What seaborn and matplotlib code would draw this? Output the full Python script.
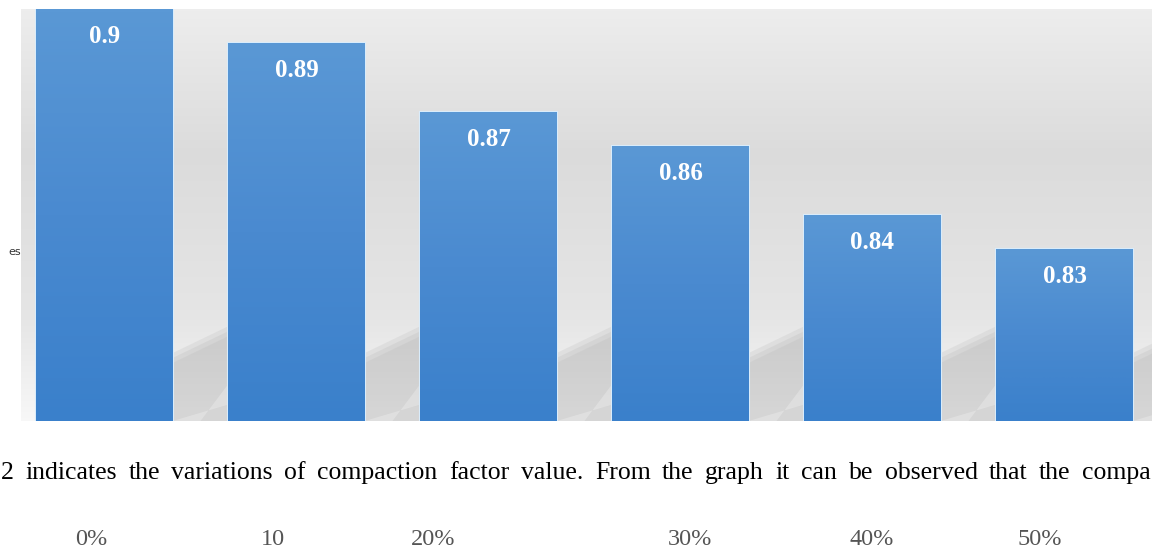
import numpy as np
import matplotlib
matplotlib.use('Agg')
import matplotlib.pyplot as plt
import matplotlib.transforms as mtransforms
from matplotlib.patches import Polygon
import seaborn as sns

# values
categories = ['0%', '10', '20%', '30%', '40%', '50%']
values = [0.90, 0.89, 0.87, 0.86, 0.84, 0.83]
value_labels = ['0.9', '0.89', '0.87', '0.86', '0.84', '0.83']
body_words = ['2', 'indicates', 'the', 'variations', 'of', 'compaction', 'factor', 'value.',
              'From', 'the', 'graph', 'it', 'can', 'be', 'observed', 'that', 'the', 'compa']

sns.set_style('white')
plt.rcParams['font.family'] = ['Liberation Serif', 'DejaVu Serif']

fig = plt.figure(figsize=(11.52, 5.49), dpi=100)
ax = fig.add_axes([21 / 1152, 128 / 549, 1131 / 1152, 412 / 549])
ax.set_facecolor('none')

# light grey backdrop, darker in the upper middle, whitish near the floor
rows = np.linspace(0, 1, 256)
shade = np.interp(rows, [0, 0.35, 0.75, 1.0], [0.93, 0.86, 0.90, 0.97])
bg = np.dstack([shade, shade, shade]).transpose(1, 0, 2)
ax.imshow(bg, extent=[0, 1, 0, 1], transform=ax.transAxes, aspect='auto',
          zorder=0, interpolation='bicubic')

sns.barplot(x=categories, y=values, width=0.71, color='#4a8bd0',
            edgecolor='#d9ecfb', linewidth=1.5, ax=ax, zorder=3)

ax.set_xlim(-0.435, 5.456)
ax.set_ylim(0.78, 0.9)

# soft shadows in the gaps between bars
blend = mtransforms.blended_transform_factory(ax.transData, ax.transAxes)
bars = list(ax.patches)
for i, b in enumerate(bars):
    x0 = b.get_x() + b.get_width()
    x1 = bars[i + 1].get_x() if i + 1 < len(bars) else x0 + 0.29
    for k, a in enumerate([0.12, 0.12, 0.1]):
        lift = 0.012 * k
        ax.add_patch(Polygon([(x0, 0.0), (x0, 0.165 - lift), (x1, 0.23 - lift), (x1, 0.0)],
                             closed=True, transform=blend, facecolor='#8f8f8f',
                             alpha=a, edgecolor='none', zorder=1))
    ax.add_patch(Polygon([(x0, 0.0), (x0 + (x1 - x0) * 0.5, 0.0), (x1, 0.09), (x1, 0.04)],
                         closed=True, transform=blend, facecolor='white',
                         alpha=0.25, edgecolor='none', zorder=1.5))

# vertical gradient inside every bar
grad = np.linspace(0, 1, 128).reshape(-1, 1)
cmap = matplotlib.colors.LinearSegmentedColormap.from_list(
    'barblue', ['#3a80cb', '#4a8ad0', '#5a98d5'])
for b in bars:
    im = ax.imshow(grad, extent=[b.get_x(), b.get_x() + b.get_width(), 0.78, b.get_height()],
                   origin='lower', aspect='auto', cmap=cmap, zorder=4,
                   interpolation='bicubic')
    im.set_clip_path(b)

for b, lab in zip(bars, value_labels):
    ax.annotate(lab, (b.get_x() + b.get_width() / 2, b.get_height()),
                xytext=(0, -27), textcoords='offset pixels', ha='center', va='center',
                color='white', fontsize=18, fontweight='bold', zorder=6)

ax.set_xticks([])
ax.set_yticks([])
ax.set_xlabel('')
ax.set_ylabel('')
for s in ax.spines.values():
    s.set_visible(False)

fig.text(8 / 1152, 1 - 252 / 549, 'es', fontsize=8, family='DejaVu Sans',
         color='#333333', va='center')

# justified line of body text: spread the words across the full width
fig.canvas.draw()
renderer = fig.canvas.get_renderer()
word_texts = [fig.text(0, 1 - 479 / 549, w, fontsize=18.5, color='black', va='baseline')
              for w in body_words]
widths = [t.get_window_extent(renderer).width for t in word_texts]
left_px, right_px = 1, 1151
gap = (right_px - left_px - sum(widths)) / (len(body_words) - 1)
xpos = left_px
for t, w in zip(word_texts, widths):
    t.set_x(xpos / 1152)
    xpos += w + gap

label_x = [91, 273, 433, 690, 872, 1040]
for lx, lab in zip(label_x, categories):
    fig.text(lx / 1152, 1 - 545 / 549, lab, fontsize=17.5, color='#555555',
             ha='center', va='baseline')

fig.savefig('out.png', dpi=100)
